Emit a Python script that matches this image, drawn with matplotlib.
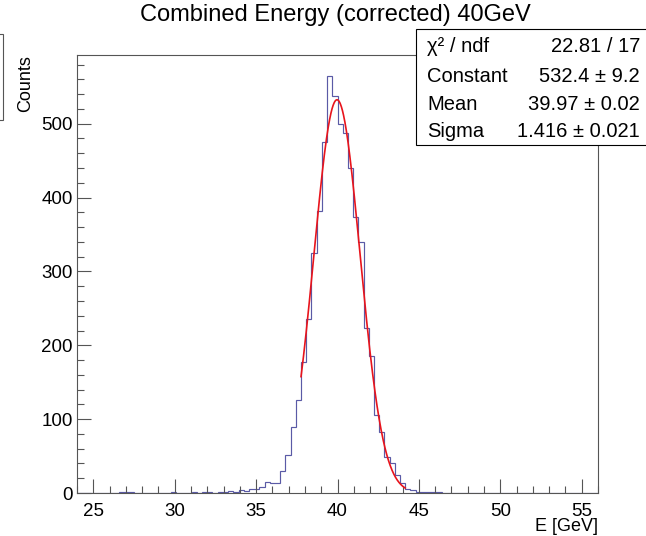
import numpy as np
import matplotlib
matplotlib.use("Agg")
import matplotlib.pyplot as plt
from matplotlib.patches import Rectangle
from matplotlib.ticker import MultipleLocator

plt.rcParams["font.family"] = ["Liberation Sans", "DejaVu Sans"]

# histogram: 100 bins of 0.32 GeV from 24 to 56
E_MIN, E_MAX, N_BINS = 24.0, 56.0, 100
counts = [0] * 8 + [1, 1, 1] + [0] * 7 + [1, 0, 0, 0, 1, 0, 2, 1, 0, 2, 1, 3, 2, 4, 3, 5, 6, 8,
          15, 14, 14, 30, 52, 90, 126, 177, 236, 325, 382, 475, 565, 538, 500, 487, 440,
          373, 340, 223, 186, 105, 82, 49, 40, 25, 14, 5, 4, 2, 2, 1, 1, 1]
counts = counts + [0] * (N_BINS - len(counts))

# gaussian fit result (stat box)
chi2, ndf = 22.81, 17
constant, constant_err = 532.4, 9.2
mean, mean_err = 39.97, 0.02
sigma, sigma_err = 1.416, 0.021
fit_range = (37.76, 44.16)

W, H = 646, 536
FRAME = "#555555"
fig = plt.figure(figsize=(W / 100, H / 100), dpi=100)
ax = fig.add_axes([77 / W, 1 - 493 / H, (598 - 77) / W, (493 - 55) / H])

edges = np.linspace(E_MIN, E_MAX, N_BINS + 1)
ax.stairs(counts, edges, color="#5a5aa6", lw=0.85)

xf = np.linspace(fit_range[0], fit_range[1], 300)
ax.plot(xf, constant * np.exp(-0.5 * ((xf - mean) / sigma) ** 2), color="#e8141c", lw=1.2)

ax.set_xlim(E_MIN, E_MAX)
ax.set_ylim(0, 593)
ax.xaxis.set_major_locator(MultipleLocator(5))
ax.xaxis.set_minor_locator(MultipleLocator(1))
ax.yaxis.set_major_locator(MultipleLocator(100))
ax.yaxis.set_minor_locator(MultipleLocator(20))
ax.tick_params(which="both", direction="in", labelsize=13.5, width=0.8, color=FRAME)
ax.tick_params(which="major", length=10)
ax.tick_params(which="minor", length=5)
ax.tick_params(axis="x", pad=7)
ax.tick_params(axis="y", pad=3)
for s in ax.spines.values():
    s.set_linewidth(0.8)
    s.set_color(FRAME)

fig.text(335 / W, 1 - 4 / H, "Combined Energy (corrected) 40GeV", ha="center", va="top", fontsize=17)
fig.text(26 / W, 1 - 55 / H, "Counts", rotation=90, ha="center", va="top", fontsize=13)
fig.text(598 / W, 1 - 531 / H, "E [GeV]", ha="right", va="baseline", fontsize=13)

# stat box
fig.patches.append(Rectangle((416 / W, 1 - 145 / H), 1.0, (145 - 29) / H, transform=fig.transFigure,
                             facecolor="white", edgecolor="black", lw=0.8, zorder=5))
rows = [("χ² / ndf", f"{chi2:.2f} / {ndf}"),
        ("Constant", f"{constant:.1f} ± {constant_err:.1f}"),
        ("Mean", f"{mean:.2f} ± {mean_err:.2f}"),
        ("Sigma", f"{sigma:.3f} ± {sigma_err:.3f}")]
for (label, value), yb in zip(rows, [52, 82, 110, 137]):
    fig.text(427 / W, 1 - yb / H, label, ha="left", va="baseline", fontsize=14.5, zorder=6)
    fig.text(640 / W, 1 - yb / H, value, ha="right", va="baseline", fontsize=14.5, zorder=6)

# edge of a box cut off at the left border
fig.patches.append(Rectangle((-10 / W, 1 - 120 / H), 13 / W, (120 - 34) / H, transform=fig.transFigure,
                             facecolor="none", edgecolor=FRAME, lw=0.8))

fig.savefig("out.png", dpi=100)
